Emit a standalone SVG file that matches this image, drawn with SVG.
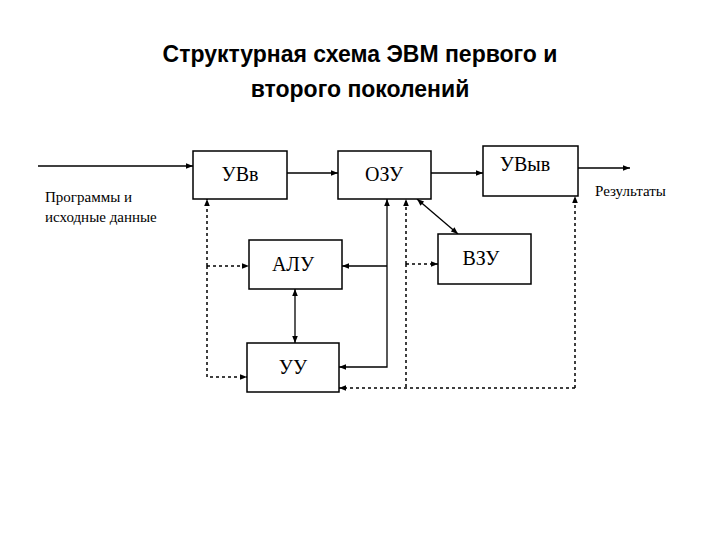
<svg xmlns="http://www.w3.org/2000/svg" width="720" height="540" viewBox="0 0 720 540">
<style>
.b{fill:#fff;stroke:#000;stroke-width:1.5}
.t{font-family:"Liberation Serif",serif;font-size:20px;text-anchor:middle}
.s{font-family:"Liberation Serif",serif;font-size:15px}
.l{fill:none;stroke:#000;stroke-width:1.3}
.d{fill:none;stroke:#000;stroke-width:1.5;stroke-dasharray:3,3}
</style>
<defs>
<marker id="a" viewBox="0 0 10 10" refX="10" refY="5" markerWidth="9" markerHeight="7" orient="auto-start-reverse" markerUnits="userSpaceOnUse"><path d="M0,1L10,5L0,9z"/></marker>
</defs>
<rect width="720" height="540" fill="#fff"/>
<text x="360" y="62" font-family="Liberation Sans,sans-serif" font-weight="bold" font-size="23" text-anchor="middle">Структурная схема ЭВМ первого и</text>
<text x="360" y="97" font-family="Liberation Sans,sans-serif" font-weight="bold" font-size="23" text-anchor="middle">второго поколений</text>
<g id="connectors">
<path class="l" d="M38,166H193" marker-end="url(#a)"/>
<path class="l" d="M287,173H338" marker-end="url(#a)"/>
<path class="l" d="M431,173H483" marker-end="url(#a)"/>
<path class="l" d="M578,168H630" marker-end="url(#a)"/>
<path class="l" d="M387,266V367H339" marker-end="url(#a)"/>
<path class="l" d="M387,266V199" marker-end="url(#a)"/>
<path class="l" d="M387,266H342" marker-end="url(#a)"/>
<path class="l" d="M417,199L458,234" marker-start="url(#a)" marker-end="url(#a)"/>
<path class="l" d="M295,289V343" marker-start="url(#a)" marker-end="url(#a)"/>
<path class="d" d="M207,266V199" marker-end="url(#a)"/>
<path class="d" d="M207,266V377H247" marker-end="url(#a)"/>
<path class="d" d="M207,266H249" marker-end="url(#a)"/>
<path class="d" d="M406,264V199" marker-end="url(#a)"/>
<path class="d" d="M406,264V388" />
<path class="d" d="M406,264H438" marker-end="url(#a)"/>
<path class="d" d="M575,388V196" marker-end="url(#a)"/>
<path class="d" d="M575,388H339" marker-end="url(#a)"/>
</g>
<g id="uvv"><rect class="b" x="193" y="151" width="94" height="48"/><text class="t" x="240" y="181">УВв</text></g>
<g id="ozu"><rect class="b" x="338" y="151" width="93" height="48"/><text class="t" x="384" y="181">ОЗУ</text></g>
<g id="uvyv"><rect class="b" x="483" y="146" width="95" height="50"/><text class="t" x="525" y="171">УВыв</text></g>
<g id="alu"><rect class="b" x="249" y="240" width="93" height="49"/><text class="t" x="293" y="271">АЛУ</text></g>
<g id="vzu"><rect class="b" x="438" y="234" width="93" height="50"/><text class="t" x="481" y="265">ВЗУ</text></g>
<g id="uu"><rect class="b" x="247" y="343" width="92" height="49"/><text class="t" x="293" y="374">УУ</text></g>
<g id="labels">
<text class="s" x="45" y="202">Программы и</text>
<text class="s" x="45" y="222">исходные данные</text>
<text class="s" x="595" y="196">Результаты</text>
</g>
</svg>
